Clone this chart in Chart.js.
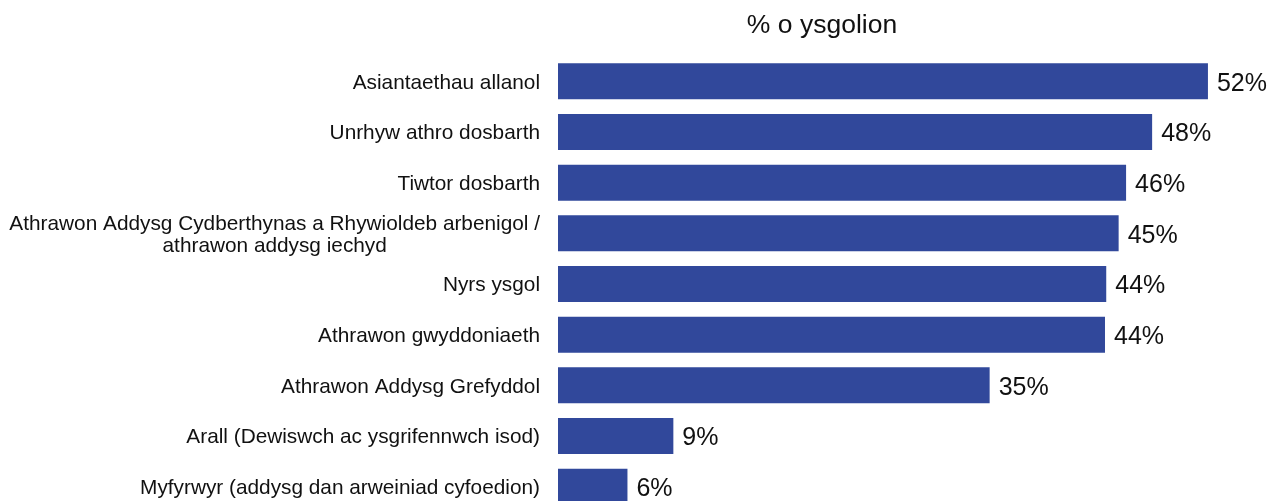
<!DOCTYPE html>
<html>
<head>
<meta charset="utf-8">
<script src="https://cdn.jsdelivr.net/npm/chart.js@4"></script>
<style>
  html, body { margin:0; padding:0; background:#fff; overflow:hidden; }
  #wrap { position:relative; width:1272px; height:512px; }
</style>
</head>
<body>
<div id="wrap"><canvas id="chart"></canvas></div>
<script>
// data
const categories = [
  'Asiantaethau allanol',
  'Unrhyw athro dosbarth',
  'Tiwtor dosbarth',
  ['Athrawon Addysg Cydberthynas a Rhywioldeb arbenigol /', 'athrawon addysg iechyd'],
  'Nyrs ysgol',
  'Athrawon gwyddoniaeth',
  'Athrawon Addysg Grefyddol',
  'Arall (Dewiswch ac ysgrifennwch isod)',
  'Myfyrwyr (addysg dan arweiniad cyfoedion)'
];
const values = [52.4, 47.9, 45.8, 45.2, 44.2, 44.1, 34.8, 9.3, 5.6];
const titleText = '% o ysgolion';

const FONT = '"Liberation Sans", Arial, sans-serif';
const barColor = '#31489b';

// value labels at the end of each bar
const valueLabels = {
  id: 'valueLabels',
  afterDatasetsDraw(chart){
    const ctx = chart.ctx;
    const meta = chart.getDatasetMeta(0);
    ctx.save();
    ctx.font = '25px ' + FONT;
    ctx.fillStyle = '#111';
    ctx.textAlign = 'left';
    ctx.textBaseline = 'middle';
    meta.data.forEach((bar, i) => {
      ctx.fillText(Math.round(values[i]) + '%', bar.x + 9, bar.y + 2.5);
    });
    ctx.restore();
  }
};

// category labels: right aligned, wrapped lines centred on each other
const catLabels = {
  id: 'catLabels',
  afterDraw(chart){
    const ctx = chart.ctx;
    const y = chart.scales.y;
    const right = chart.chartArea.left - 18;
    ctx.save();
    ctx.font = '20.8px ' + FONT;
    ctx.fillStyle = '#111';
    ctx.textBaseline = 'middle';
    ctx.textAlign = 'center';
    const lh = 22;
    categories.forEach((c, i) => {
      const lines = Array.isArray(c) ? c : [c];
      const w = Math.max(...lines.map(l => ctx.measureText(l).width));
      const cx = right - w / 2;
      const cy = y.getPixelForValue(i) + 1.5;
      const y0 = cy - (lines.length - 1) * lh / 2;
      lines.forEach((l, k) => ctx.fillText(l, cx, y0 + k * lh));
    });
    // chart title
    ctx.font = '26.5px ' + FONT;
    ctx.textBaseline = 'alphabetic';
    ctx.fillText(titleText, 822, 33);
    ctx.restore();
  }
};

new Chart(document.getElementById('chart').getContext('2d'), {
  type: 'bar',
  data: {
    labels: categories,
    datasets: [{ data: values, backgroundColor: barColor, barPercentage: 0.71, categoryPercentage: 1 }]
  },
  options: {
    indexAxis: 'y',
    responsive: true, maintainAspectRatio: false,
    animation: false,
    layout: { padding: { top: 56, right: 7, bottom: 0, left: 0 } },
    plugins: { legend: { display: false }, tooltip: { enabled: false } },
    scales: {
      x: { display: false, min: 0, max: 57 },
      y: {
        ticks: { display: false },
        grid: { display: false },
        border: { display: false },
        afterFit(scale){ scale.width = 558; }
      }
    }
  },
  plugins: [valueLabels, catLabels]
});
</script>
</body>
</html>
